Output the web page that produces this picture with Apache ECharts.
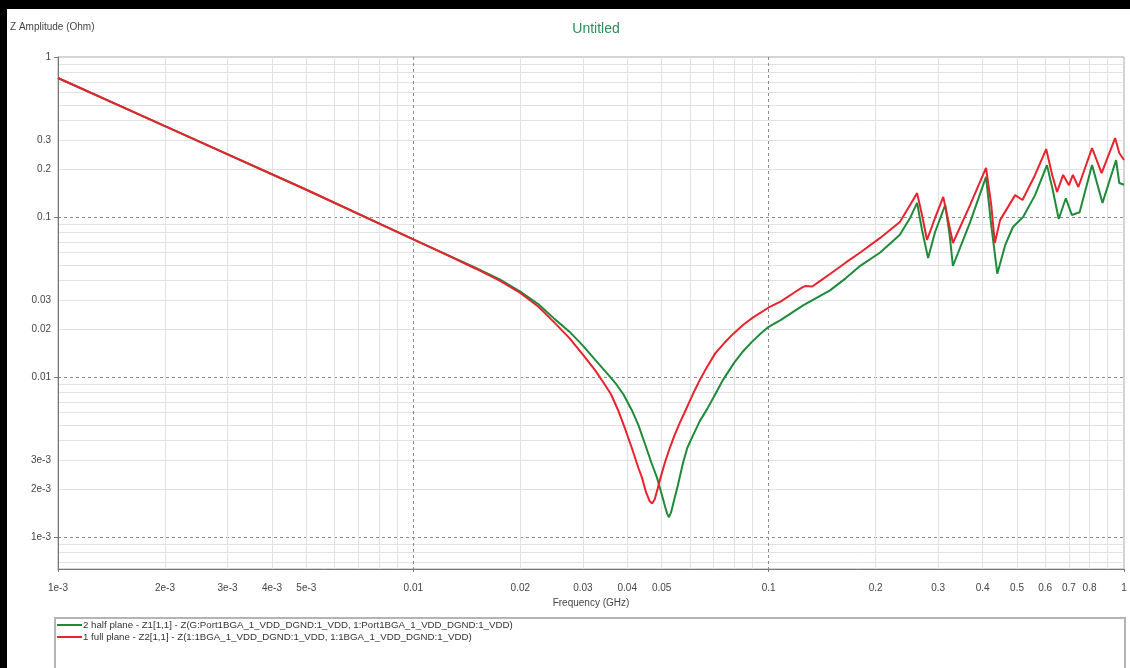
<!DOCTYPE html>
<html><head><meta charset="utf-8">
<script src="https://cdn.jsdelivr.net/npm/echarts@6/dist/echarts.min.js"></script>
<style>html,body{margin:0;padding:0;background:#fff}#c{width:1130px;height:668px}</style>
</head><body><div id="c"></div>
<script>
// Frequencies in GHz, impedance amplitude in Ohm
const halfPlaneName = '2 half plane - Z1[1,1] - Z(G:Port1BGA_1_VDD_DGND:1_VDD, 1:Port1BGA_1_VDD_DGND:1_VDD)';
const fullPlaneName = '1 full plane - Z2[1,1] - Z(1:1BGA_1_VDD_DGND:1_VDD, 1:1BGA_1_VDD_DGND:1_VDD)';

const halfPlaneFreq = [0.001, 0.002, 0.005, 0.01, 0.0125, 0.015, 0.0175, 0.02, 0.0225, 0.025, 0.0275, 0.03, 0.0325, 0.035, 0.037, 0.039, 0.0412, 0.043, 0.0449, 0.0468, 0.0485, 0.050, 0.0511, 0.0518, 0.0524, 0.0531, 0.054, 0.0555, 0.0574, 0.059, 0.0612, 0.064, 0.0671, 0.0705, 0.0744, 0.08, 0.085, 0.09, 0.095, 0.1, 0.108, 0.125, 0.1488, 0.165, 0.181, 0.206, 0.234, 0.25, 0.2617, 0.2701, 0.281, 0.294, 0.314, 0.323, 0.33, 0.369, 0.409, 0.423, 0.44, 0.463, 0.487, 0.52, 0.562, 0.607, 0.63, 0.655, 0.686, 0.713, 0.75, 0.813, 0.87, 0.95, 0.97, 1.0];
const halfPlaneZ = [0.739, 0.370, 0.148, 0.0725, 0.0578, 0.048, 0.0408, 0.0342, 0.0285, 0.0230, 0.0192, 0.0157, 0.0128, 0.0106, 0.0092, 0.0078, 0.0062, 0.0050, 0.0038, 0.0029, 0.00235, 0.00185, 0.00155, 0.00140, 0.00133, 0.00142, 0.00165, 0.0021, 0.0029, 0.0036, 0.0043, 0.0053, 0.0063, 0.0077, 0.0096, 0.0123, 0.0146, 0.0167, 0.0187, 0.0206, 0.0227, 0.0280, 0.0348, 0.0415, 0.0495, 0.060, 0.0774, 0.0987, 0.1225, 0.083, 0.0555, 0.0806, 0.119, 0.0774, 0.0494, 0.093, 0.178, 0.0891, 0.0442, 0.0667, 0.0866, 0.1, 0.137, 0.211, 0.148, 0.0972, 0.131, 0.103, 0.107, 0.211, 0.1225, 0.227, 0.163, 0.159];

const fullPlaneFreq = [0.001, 0.002, 0.005, 0.01, 0.0125, 0.015, 0.0175, 0.02, 0.0225, 0.025, 0.0275, 0.03, 0.0325, 0.0342, 0.036, 0.0377, 0.0395, 0.0412, 0.043, 0.044, 0.0452, 0.0462, 0.047, 0.0478, 0.0487, 0.0495, 0.051, 0.0528, 0.0545, 0.0563, 0.058, 0.060, 0.062, 0.0642, 0.067, 0.0708, 0.075, 0.0794, 0.085, 0.09, 0.1, 0.108, 0.1187, 0.124, 0.1266, 0.1326, 0.14, 0.1488, 0.165, 0.181, 0.206, 0.234, 0.25, 0.2617, 0.2701, 0.279, 0.294, 0.31, 0.32, 0.33, 0.369, 0.409, 0.423, 0.433, 0.448, 0.494, 0.518, 0.562, 0.604, 0.628, 0.648, 0.674, 0.70, 0.718, 0.744, 0.813, 0.865, 0.944, 0.97, 1.0];
const fullPlaneZ = [0.739, 0.370, 0.148, 0.0725, 0.0575, 0.0475, 0.0400, 0.0335, 0.0275, 0.0218, 0.0175, 0.0138, 0.0110, 0.0093, 0.0078, 0.0062, 0.0047, 0.0036, 0.0027, 0.00235, 0.0019, 0.00168, 0.00162, 0.00172, 0.0020, 0.0023, 0.0029, 0.00365, 0.0044, 0.0052, 0.0060, 0.0071, 0.0083, 0.0097, 0.0115, 0.0141, 0.0163, 0.0186, 0.0213, 0.0234, 0.0272, 0.0296, 0.034, 0.0362, 0.0370, 0.0368, 0.0400, 0.044, 0.052, 0.060, 0.074, 0.093, 0.119, 0.141, 0.103, 0.0718, 0.0987, 0.1334, 0.0956, 0.0688, 0.119, 0.2026, 0.119, 0.0688, 0.0956, 0.137, 0.1277, 0.1832, 0.266, 0.1832, 0.1432, 0.1832, 0.158, 0.1832, 0.154, 0.27, 0.188, 0.3116, 0.251, 0.227];

const xTickValues = [0.001, 0.002, 0.003, 0.004, 0.005, 0.01, 0.02, 0.03, 0.04, 0.05, 0.1, 0.2, 0.3, 0.4, 0.5, 0.6, 0.7, 0.8, 1];
const xTickLabels = ['1e-3', '2e-3', '3e-3', '4e-3', '5e-3', '0.01', '0.02', '0.03', '0.04', '0.05', '0.1', '0.2', '0.3', '0.4', '0.5', '0.6', '0.7', '0.8', '1'];
const yTickValues = [1, 0.3, 0.2, 0.1, 0.03, 0.02, 0.01, 0.003, 0.002, 0.001];
const yTickLabels = ['1', '0.3', '0.2', '0.1', '0.03', '0.02', '0.01', '3e-3', '2e-3', '1e-3'];

const xMajorGrid = [0.01, 0.1];
const xMinorGrid = [0.002, 0.003, 0.004, 0.005, 0.006, 0.007, 0.008, 0.009, 0.02, 0.03, 0.04, 0.05, 0.06, 0.07, 0.08, 0.09, 0.2, 0.3, 0.4, 0.5, 0.6, 0.7, 0.8, 0.9];
const yMajorGrid = [0.1, 0.01, 0.001];
const yMinorGrid = [0.9, 0.8, 0.7, 0.6, 0.5, 0.4, 0.3, 0.2, 0.09, 0.08, 0.07, 0.06, 0.05, 0.04, 0.03, 0.02, 0.009, 0.008, 0.007, 0.006, 0.005, 0.004, 0.003, 0.002, 0.0009, 0.0008, 0.0007];

const X_MIN = 0.001, X_MAX = 1, Y_MIN = 0.000631, Y_MAX = 1;

function labelFor(values, labels) {
  return function (v) {
    for (let i = 0; i < values.length; i++) {
      if (Math.abs(Math.log10(v) - Math.log10(values[i])) < 1e-4) return labels[i];
    }
    return '';
  };
}

const chart = echarts.init(document.getElementById('c'), null, {renderer: 'canvas'});
const font = 'Liberation Sans, Arial, sans-serif';
const hidden = {axisLine: {show: false}, axisTick: {show: false}, axisLabel: {show: false}};

chart.setOption({
  animation: false,
  backgroundColor: '#ffffff',
  title: {
    text: 'Untitled', left: 591, top: 17, textAlign: 'center',
    textStyle: {color: '#2e8b57', fontSize: 14, fontWeight: 'normal', fontFamily: font}
  },
  graphic: [
    {type: 'rect', shape: {x: 0, y: 0, width: 1130, height: 9}, style: {fill: '#000'}, z: 100},
    {type: 'rect', shape: {x: 0, y: 0, width: 7, height: 668}, style: {fill: '#000'}, z: 100},
    {type: 'rect', shape: {x: 55, y: 618, width: 1070, height: 60}, style: {fill: 'none', stroke: '#b4b4b4', lineWidth: 2}, z: 0},
    {type: 'text', left: 10, top: 22, style: {text: 'Z Amplitude (Ohm)', fill: '#444', font: '10px ' + font}}
  ],
  legend: {
    orient: 'vertical', left: 57, top: 620, itemGap: 2, itemWidth: 25, itemHeight: 2,
    icon: 'rect', padding: 0,
    textStyle: {fontSize: 9.7, color: '#333', fontFamily: font, padding: [0, 0, 0, -4]},
    data: [halfPlaneName, fullPlaneName]
  },
  grid: {left: 58, top: 57, right: 6, bottom: 99, show: true, borderColor: '#a8a8a8', borderWidth: 1, backgroundColor: '#fff'},
  xAxis: [
    {
      type: 'log', logBase: 10, min: X_MIN, max: X_MAX, position: 'bottom',
      name: 'Frequency (GHz)', nameLocation: 'middle', nameGap: 29,
      nameTextStyle: {fontSize: 10, color: '#444', fontFamily: font},
      axisLine: {show: true, lineStyle: {color: '#777', width: 1}},
      axisTick: {show: true, length: 3, lineStyle: {color: '#777'}, customValues: [0.001, 0.01, 0.1, 1]},
      axisLabel: {show: true, customValues: xTickValues, formatter: labelFor(xTickValues, xTickLabels), fontSize: 10, color: '#444', fontFamily: font, margin: 14},
      splitLine: {show: false}
    },
    Object.assign({type: 'log', logBase: 10, min: X_MIN, max: X_MAX, position: 'bottom',
      splitLine: {show: true, lineStyle: {color: '#e2e2e2', width: 1}}}, hidden,
      {axisTick: {show: false, customValues: xMinorGrid}}),
    Object.assign({type: 'log', logBase: 10, min: X_MIN, max: X_MAX, position: 'bottom',
      splitLine: {show: true, lineStyle: {color: '#8c8c8c', width: 1, type: [3, 3]}}}, hidden,
      {axisTick: {show: false, customValues: xMajorGrid}})
  ],
  yAxis: [
    {
      type: 'log', logBase: 10, min: Y_MIN, max: Y_MAX, position: 'left',
      axisLine: {show: true, lineStyle: {color: '#777', width: 1}},
      axisTick: {show: true, length: 4, lineStyle: {color: '#777'}, customValues: [1, 0.1, 0.01, 0.001]},
      axisLabel: {show: true, customValues: yTickValues, formatter: labelFor(yTickValues, yTickLabels), fontSize: 10, color: '#444', fontFamily: font, margin: 7},
      splitLine: {show: false}
    },
    Object.assign({type: 'log', logBase: 10, min: Y_MIN, max: Y_MAX, position: 'left',
      splitLine: {show: true, lineStyle: {color: '#e2e2e2', width: 1}}}, hidden,
      {axisTick: {show: false, customValues: yMinorGrid}}),
    Object.assign({type: 'log', logBase: 10, min: Y_MIN, max: Y_MAX, position: 'left',
      splitLine: {show: true, lineStyle: {color: '#8c8c8c', width: 1, type: [3, 3]}}}, hidden,
      {axisTick: {show: false, customValues: yMajorGrid}})
  ],
  series: [
    {
      name: halfPlaneName, type: 'line', xAxisIndex: 0, yAxisIndex: 0,
      showSymbol: false, symbol: 'none', smooth: false,
      lineStyle: {color: '#1f8a3a', width: 2}, itemStyle: {color: '#1f8a3a'},
      data: halfPlaneFreq.map((f, i) => [f, halfPlaneZ[i]]), z: 3
    },
    {
      name: fullPlaneName, type: 'line', xAxisIndex: 0, yAxisIndex: 0,
      showSymbol: false, symbol: 'none', smooth: false,
      lineStyle: {color: '#e8232d', width: 2}, itemStyle: {color: '#e8232d'},
      data: fullPlaneFreq.map((f, i) => [f, fullPlaneZ[i]]), z: 4
    }
  ]
});
</script>
</body></html>
